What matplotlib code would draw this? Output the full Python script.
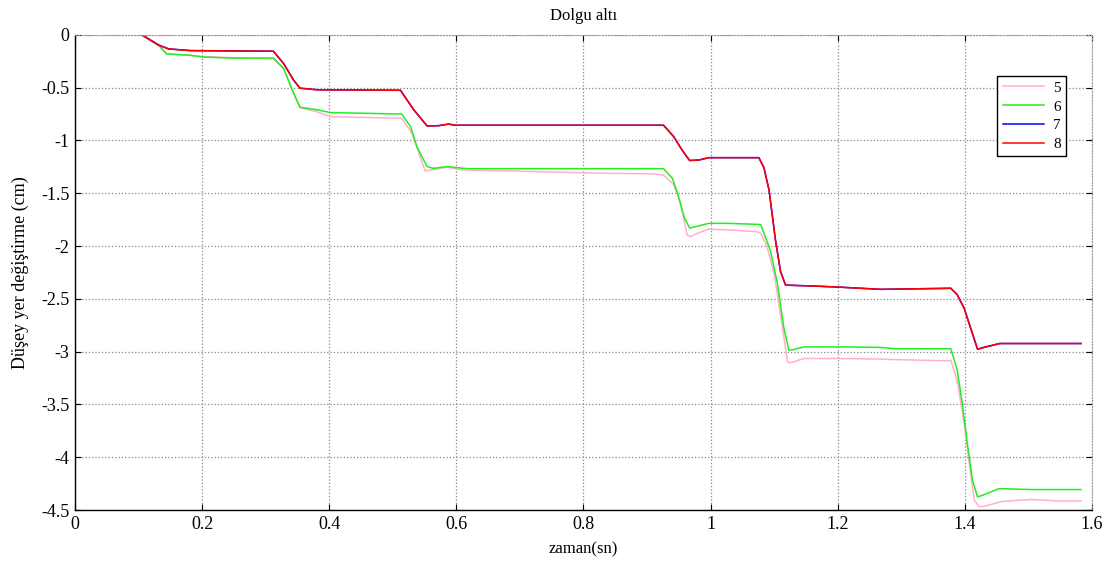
import matplotlib
matplotlib.use("Agg")
import matplotlib.pyplot as plt

plt.rcParams['font.family'] = ['Liberation Serif', 'DejaVu Serif']

# series 5 (pink)
t5 = [0.105, 0.131, 0.144, 0.181, 0.2, 0.244, 0.312, 0.328, 0.344, 0.354, 0.381, 0.402,
      0.514, 0.530, 0.541, 0.551, 0.559, 0.585, 0.611, 0.690, 0.753, 0.827, 0.911,
      0.926, 0.942, 0.953, 0.963, 0.969, 0.979, 0.997, 1.037, 1.073,
      1.079, 1.089, 1.100, 1.113, 1.121, 1.126, 1.147, 1.194, 1.268, 1.278, 1.375,
      1.378, 1.388, 1.399, 1.407, 1.415, 1.423, 1.431, 1.457, 1.504, 1.546, 1.583]
y5 = [0.0, -0.095, -0.18, -0.195, -0.205, -0.215, -0.225, -0.32, -0.56, -0.69, -0.73, -0.775,
      -0.79, -0.93, -1.12, -1.289, -1.28, -1.254, -1.28, -1.289, -1.30, -1.31, -1.317,
      -1.327, -1.42, -1.595, -1.896, -1.91, -1.88, -1.84, -1.85, -1.865,
      -1.88, -2.007, -2.26, -2.765, -3.097, -3.106, -3.065, -3.065, -3.07, -3.074, -3.087,
      -3.08, -3.27, -3.68, -4.06, -4.408, -4.47, -4.465, -4.42, -4.40, -4.414, -4.414]

# series 6 (green)
t6 = [0.105, 0.131, 0.144, 0.181, 0.202, 0.244, 0.312, 0.328, 0.344, 0.354, 0.381, 0.402,
      0.514, 0.528, 0.538, 0.554, 0.564, 0.585, 0.617, 0.926,
      0.940, 0.948, 0.958, 0.967, 0.976, 0.997, 1.026, 1.076,
      1.079, 1.094, 1.105, 1.115, 1.123, 1.131, 1.147, 1.215, 1.268, 1.291, 1.378,
      1.388, 1.396, 1.404, 1.412, 1.420, 1.428, 1.454, 1.504, 1.583]
y6 = [0.0, -0.095, -0.18, -0.193, -0.21, -0.22, -0.22, -0.316, -0.553, -0.685, -0.71, -0.736,
      -0.75, -0.87, -1.06, -1.248, -1.264, -1.248, -1.267, -1.267,
      -1.36, -1.50, -1.72, -1.83, -1.817, -1.785, -1.785, -1.795,
      -1.80, -2.04, -2.35, -2.765, -2.986, -2.98, -2.955, -2.955, -2.96, -2.973, -2.973,
      -3.175, -3.49, -3.87, -4.218, -4.376, -4.36, -4.297, -4.306, -4.306]

# series 7 (blue) and 8 (red) nearly identical
t8 = [0.105, 0.131, 0.147, 0.181, 0.312, 0.328, 0.344, 0.354, 0.381, 0.512,
      0.533, 0.554, 0.572, 0.588, 0.598, 0.926,
      0.942, 0.955, 0.967, 0.982, 0.997, 1.076,
      1.084, 1.092, 1.102, 1.110, 1.118, 1.168, 1.205, 1.268, 1.378,
      1.388, 1.399, 1.420, 1.430, 1.455, 1.583]
y8 = [0.0, -0.095, -0.133, -0.149, -0.155, -0.27, -0.43, -0.505, -0.52, -0.525,
      -0.71, -0.863, -0.86, -0.845, -0.856, -0.856,
      -0.964, -1.09, -1.19, -1.185, -1.163, -1.163,
      -1.26, -1.47, -1.94, -2.24, -2.37, -2.38, -2.39, -2.41, -2.40,
      -2.46, -2.59, -2.977, -2.96, -2.923, -2.923]
t7 = list(t8)
y7 = list(y8)

fig = plt.figure(figsize=(11.15, 5.65), dpi=100)
ax = fig.add_axes([0.0673, 0.0973, 0.912, 0.841])

ax.plot(t5, y5, color='#ffb0cc', lw=1.1, label='5')
ax.plot(t6, y6, color='#22ee22', lw=1.1, label='6')
ax.plot(t7, y7, color='#0000ff', lw=1.1, label='7')
ax.plot(t8, y8, color='#ff0000', lw=1.1, label='8')

ax.set_xlim(0, 1.6)
ax.set_ylim(-4.5, 0)
ax.set_xticks([0, 0.2, 0.4, 0.6, 0.8, 1, 1.2, 1.4, 1.6])
ax.set_xticklabels(['0', '0.2', '0.4', '0.6', '0.8', '1', '1.2', '1.4', '1.6'])
ax.set_yticks([0, -0.5, -1, -1.5, -2, -2.5, -3, -3.5, -4, -4.5])
ax.set_yticklabels(['0', '-0.5', '-1', '-1.5', '-2', '-2.5', '-3', '-3.5', '-4', '-4.5'])
ax.tick_params(direction='in', top=True, right=True, labelsize=13, length=4, pad=4)
ax.grid(True, color='#888888', linestyle=':', linewidth=0.9)
for s in ['top', 'right']:
    ax.spines[s].set_color('#999999')
    ax.spines[s].set_linestyle(':')
for s in ['left', 'bottom']:
    ax.spines[s].set_linewidth(1.0)

ax.set_title('Dolgu altı', fontsize=12, pad=11)
ax.set_xlabel('zaman(sn)', fontsize=12, labelpad=6)
ax.set_ylabel('Düşey yer değiştirme (cm)', fontsize=13, labelpad=9)

leg = ax.legend(loc='upper left', bbox_to_anchor=(0.907, 0.914), fontsize=11,
                fancybox=False, framealpha=1, edgecolor='black', handlelength=2.7,
                borderpad=0.35, labelspacing=0.33, handletextpad=0.6, borderaxespad=0)
leg.get_frame().set_linewidth(1.0)

fig.savefig('out.png', dpi=100)
plt.close(fig)
